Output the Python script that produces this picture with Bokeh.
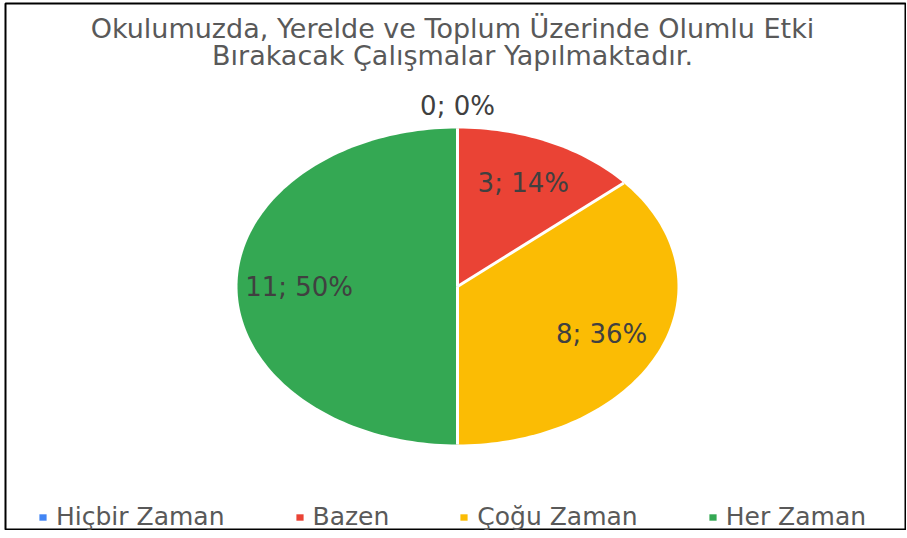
import numpy as np
from bokeh.plotting import figure
from bokeh.models import Range1d, Label, Legend, LegendItem
from bokeh.core.properties import value
from bokeh.embed import file_html
from bokeh.resources import INLINE

# ---- data ----
title_lines = ["Okulumuzda, Yerelde ve Toplum Üzerinde Olumlu Etki",
               "Bırakacak Çalışmalar Yapılmaktadır."]
categories = ["Hiçbir Zaman", "Bazen", "Çoğu Zaman", "Her Zaman"]
counts = [0, 3, 8, 11]
colors = ["#4285F4", "#EA4335", "#FBBC04", "#34A853"]

# ---- layout ----
W, H = 906, 530
L, T = 5, 3
cx, cy, rx, ry = 457, 286, 220, 158
FONT = "DejaVu Sans"

p = figure(width=W, height=H, x_range=Range1d(L, W), y_range=Range1d(H, T),
           output_backend="svg", toolbar_location=None,
           min_border_left=L, min_border_top=T, min_border_right=0, min_border_bottom=0,
           x_axis_location=None, y_axis_location=None)
p.grid.visible = False
p.outline_line_color = "black"
p.outline_line_width = 2
p.background_fill_color = "white"
p.border_fill_color = "white"

total = sum(counts)
lx, ly, labels, sx, sy = [], [], [], [], []
items = []
ang = np.pi / 2
for cat, col, c in zip(categories, colors, counts):
    span = 2 * np.pi * c / total
    t = np.linspace(ang, ang - span, max(2, int(240 * c / total) + 2))
    px = [cx] + list(cx + rx * np.cos(t))
    py = [cy] + list(cy - ry * np.sin(t))
    r = p.patch(px, py, fill_color=col, line_color=None)
    items.append(LegendItem(label=cat, renderers=[r]))
    sx.append(cx + rx * np.cos(ang))
    sy.append(cy - ry * np.sin(ang))
    mid = ang - span / 2
    f = 0.72 if c > 0 else 1.14
    lx.append(cx + f * rx * np.cos(mid))
    ly.append(cy - f * ry * np.sin(mid))
    labels.append(f"{c}; {round(100 * c / total)}%")
    ang -= span

# white slice separators
p.segment(x0=[cx] * len(sx), y0=[cy] * len(sy), x1=sx, y1=sy,
          line_color="white", line_width=3)

p.text(x=lx, y=ly, text=labels, text_align="center", text_baseline="middle",
       text_font=value(FONT), text_font_size="26px", text_color="#404040")

baselines = [28, 55]
for line, yb in zip(title_lines, baselines):
    p.add_layout(Label(x=452, y=yb, text=line, text_align="center",
                       text_baseline="alphabetic", text_font=FONT,
                       text_font_size="27px", text_color="#595959"))

legend = Legend(items=items, orientation="horizontal", location=(33, -1),
                glyph_width=9, glyph_height=8, label_standoff=9, spacing=70,
                label_text_font=FONT, label_text_font_size="25px",
                label_text_color="#595959", border_line_color=None,
                background_fill_alpha=0, padding=0, margin=0)
p.add_layout(legend)

open("out.html", "w").write(file_html(p, INLINE))
